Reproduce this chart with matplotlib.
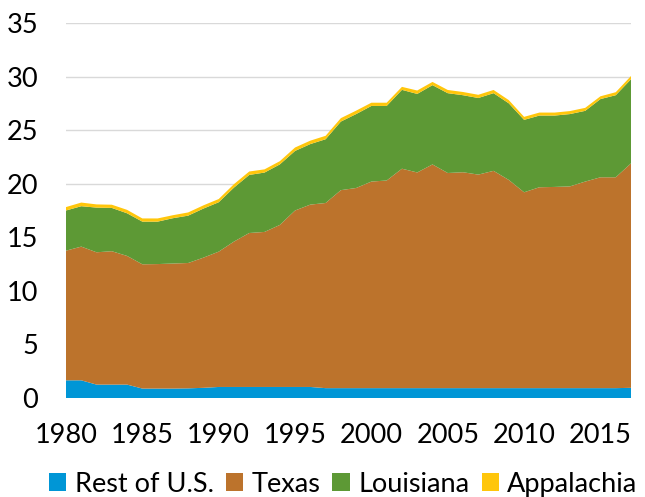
import numpy as np
import matplotlib
matplotlib.use("Agg")
import matplotlib.pyplot as plt
from matplotlib.patches import Patch

plt.rcParams['font.family'] = ['Lato', 'DejaVu Sans']

years = list(range(1980, 2018))

rest_us = [1.65, 1.65, 1.25, 1.25, 1.25, 0.88, 0.88, 0.88, 0.9, 0.95,
           1.03, 1.03, 1.03, 1.03, 1.03, 1.03, 1.03, 0.92, 0.92, 0.92,
           0.92, 0.92, 0.92, 0.92, 0.92, 0.92, 0.92, 0.92, 0.92, 0.92,
           0.92, 0.92, 0.92, 0.92, 0.92, 0.92, 0.92, 0.95]
texas = [12.1, 12.48, 12.35, 12.45, 12.01, 11.6, 11.62, 11.67, 11.7, 12.15,
         12.63, 13.57, 14.37, 14.47, 15.12, 16.47, 17.02, 17.28, 18.48, 18.68,
         19.28, 19.38, 20.48, 20.13, 20.88, 20.08, 20.15, 19.93, 20.28, 19.43,
         18.28, 18.75, 18.78, 18.83, 19.28, 19.68, 19.68, 20.95]
louisiana = [3.75, 3.77, 4.17, 4.04, 3.98, 3.98, 3.96, 4.23, 4.42, 4.58,
             4.61, 5.04, 5.42, 5.54, 5.65, 5.56, 5.65, 5.95, 6.4, 6.9,
             7.06, 6.96, 7.36, 7.33, 7.4, 7.45, 7.19, 7.15, 7.25, 7.15,
             6.76, 6.69, 6.66, 6.75, 6.6, 7.3, 7.66, 7.85]
appalachia = [0.32, 0.34, 0.3, 0.3, 0.32, 0.3, 0.3, 0.28, 0.3, 0.3,
              0.3, 0.32, 0.32, 0.3, 0.3, 0.32, 0.32, 0.32, 0.32, 0.32,
              0.3, 0.3, 0.28, 0.32, 0.3, 0.3, 0.3, 0.3, 0.3, 0.3,
              0.28, 0.28, 0.28, 0.28, 0.28, 0.26, 0.28, 0.3]

labels = ["Rest of U.S.", "Texas", "Louisiana", "Appalachia"]
colors = ["#0096D6", "#BC732C", "#5D9935", "#FFC60B"]

fig = plt.figure(figsize=(6.45, 4.97), dpi=100)
ax = fig.add_axes([66/645, 1-398/497, 565/645, 375/497])

ax.stackplot(years, rest_us, texas, louisiana, appalachia,
             colors=colors, linewidth=0, zorder=2)

ax.set_xlim(1980, 2017)
ax.set_ylim(0, 35)
ax.set_yticks(range(0, 36, 5))
ax.set_xticks(range(1980, 2017, 5))
ax.grid(axis='y', color='#D9D9D9', linewidth=1.0, zorder=0)
ax.set_axisbelow(True)
for s in ax.spines.values():
    s.set_visible(False)
ax.tick_params(axis='both', length=0, labelsize=19.5, colors='black')
ax.tick_params(axis='x', pad=18)
ax.tick_params(axis='y', pad=20)

handles = [Patch(facecolor=c, edgecolor='none') for c in colors]
fig.legend(handles, labels, loc='center', bbox_to_anchor=(0.532, 0.026),
           ncol=4, frameon=False, fontsize=19.5, handlelength=0.65,
           handleheight=0.65, handletextpad=0.3, columnspacing=0.45,
           borderpad=0, borderaxespad=0)

fig.savefig("out.png", dpi=100)
